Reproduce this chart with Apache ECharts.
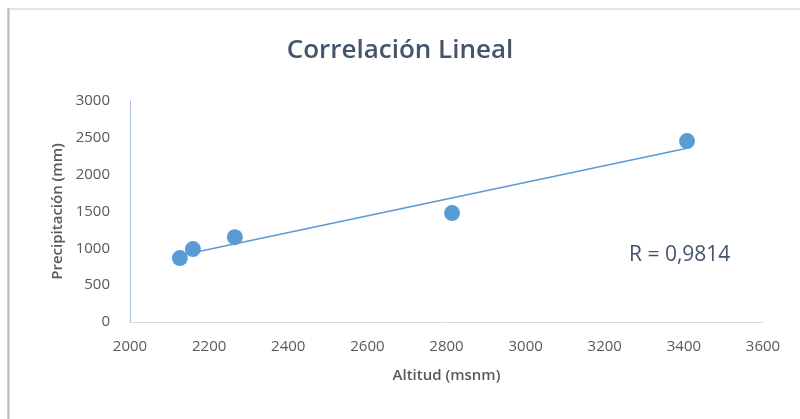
<!DOCTYPE html>
<html>
<head>
<meta charset="utf-8">
<script src="https://cdn.jsdelivr.net/npm/echarts@6/dist/echarts.min.js"></script>
<style>
  html, body { margin: 0; padding: 0; background: #fff; }
  #chart { width: 800px; height: 419px; }
</style>
</head>
<body>
<div id="chart"></div>
<script>
// datos
var altitud = [2126, 2159, 2265, 2814, 3408];
var precipitacion = [868, 990, 1152, 1479, 2456];
var xTicks = [2000, 2200, 2400, 2600, 2800, 3000, 3200, 3400, 3600];
var yTicks = [0, 500, 1000, 1500, 2000, 2500, 3000];
var rTexto = 'R = 0,9814';

// recta de mínimos cuadrados
function tendencia(xs, ys) {
    var n = xs.length, mx = 0, my = 0, sxy = 0, sxx = 0;
    for (var i = 0; i < n; i++) { mx += xs[i]; my += ys[i]; }
    mx /= n; my /= n;
    for (var j = 0; j < n; j++) {
        sxy += (xs[j] - mx) * (ys[j] - my);
        sxx += (xs[j] - mx) * (xs[j] - mx);
    }
    var b = sxy / sxx, a = my - b * mx;
    var x0 = Math.min.apply(null, xs), x1 = Math.max.apply(null, xs);
    return [[x0, a + b * x0], [x1, a + b * x1]];
}

var puntos = altitud.map(function (x, i) { return [x, precipitacion[i]]; });
var fuente = '"Open Sans", sans-serif';
var sinComa = function (v) { return String(v); };

var chart = echarts.init(document.getElementById('chart'));
var option = {
    backgroundColor: '#fff',
    title: {
        text: 'Correlación Lineal',
        left: 'center',
        top: 33,
        textStyle: {
            fontFamily: fuente,
            fontSize: 26,
            fontWeight: 600,
            color: '#44546a'
        }
    },
    grid: {
        left: 130,
        right: 37,
        top: 101,
        bottom: 97
    },
    xAxis: {
        type: 'value',
        min: xTicks[0],
        max: xTicks[xTicks.length - 1],
        interval: 200,
        name: 'Altitud (msnm)',
        nameLocation: 'middle',
        nameGap: 46,
        nameTextStyle: {
            fontFamily: fuente,
            fontSize: 15,
            fontWeight: 600,
            color: '#595959'
        },
        axisLine: { lineStyle: { color: '#d5dce6', width: 1 } },
        axisTick: { show: false },
        splitLine: { show: false },
        axisLabel: {
            margin: 17,
            fontFamily: fuente,
            fontSize: 15,
            color: '#595959',
            formatter: sinComa
        }
    },
    yAxis: {
        type: 'value',
        min: yTicks[0],
        max: yTicks[yTicks.length - 1],
        interval: 500,
        name: 'Precipitación (mm)',
        nameLocation: 'middle',
        nameGap: 64,
        nameTextStyle: {
            fontFamily: fuente,
            fontSize: 15,
            fontWeight: 600,
            color: '#595959'
        },
        axisLine: { show: true, lineStyle: { color: '#a9bcd3', width: 1 } },
        axisTick: { show: false },
        splitLine: { show: false },
        axisLabel: {
            margin: 20,
            fontFamily: fuente,
            fontSize: 15,
            color: '#595959',
            formatter: sinComa
        }
    },
    graphic: [
        { type: 'line', shape: { x1: 8, y1: 9, x2: 800, y2: 9 }, style: { stroke: '#e1e5eb', lineWidth: 2 } },
        { type: 'line', shape: { x1: 9, y1: 8, x2: 9, y2: 419 }, style: { stroke: '#d9dde3', lineWidth: 2 } },
        { type: 'line', shape: { x1: 8, y1: 8, x2: 8, y2: 419 }, style: { stroke: '#9a9da3', lineWidth: 1 } },
        {
            type: 'text',
            left: 629,
            top: 245,
            style: {
                text: rTexto,
                fontFamily: fuente,
                fontSize: 21,
                fill: '#44546a'
            }
        }
    ],
    series: [
        {
            name: 'Tendencia',
            type: 'line',
            data: tendencia(altitud, precipitacion),
            symbol: 'none',
            lineStyle: { color: '#5b9bd5', width: 1.5 },
            silent: true,
            z: 1
        },
        {
            name: 'Datos',
            type: 'scatter',
            data: puntos,
            symbolSize: 16,
            itemStyle: { color: '#5b9bd5', opacity: 1 },
            z: 2
        }
    ]
};
chart.setOption(option);
</script>
</body>
</html>
